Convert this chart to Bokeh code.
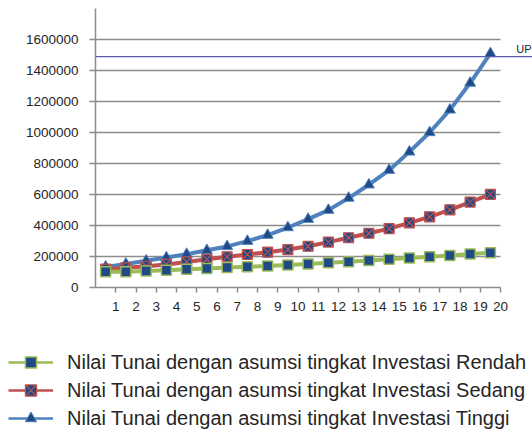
from bokeh.plotting import figure
from bokeh.layouts import column
from bokeh.models import (Range1d, FixedTicker, Span, Label, Legend, LegendItem,
                          ColumnDataSource)
from bokeh.embed import file_html
from bokeh.resources import INLINE

# ---- data ----
years = list(range(1, 21))
x_labels = [str(v) for v in years]
rendah = [101000, 102000, 106000, 111000, 117000, 123000, 129000, 134000, 139000, 145000,
          151000, 159000, 166000, 174000, 183000, 190000, 198000, 206000, 216000, 225000]
sedang = [118000, 127000, 137000, 149000, 165000, 182000, 198000, 213000, 228000, 245000,
          266000, 293000, 321000, 350000, 380000, 417000, 456000, 501000, 551000, 601000]
tinggi = [133000, 152000, 172000, 193000, 215000, 240000, 265000, 299000, 338000, 387000,
          441000, 499000, 577000, 663000, 757000, 875000, 1000000, 1146000, 1319000, 1510000]
up_value = 1490000
up_label = "UP"
y_ticks = [0, 200000, 400000, 600000, 800000, 1000000, 1200000, 1400000, 1600000]
y_tick_labels = [str(v) for v in y_ticks]
series_names = ["Nilai Tunai dengan asumsi tingkat Investasi Rendah",
                "Nilai Tunai dengan asumsi tingkat Investasi Sedang",
                "Nilai Tunai dengan asumsi tingkat Investasi Tinggi"]

# points sit in the middle of each category cell
xs = [v - 0.5 for v in years]

FONT = "Liberation Sans"
TXT = "#262626"
GRID = "#8C8C8C"
NAVY = "#1F4A85"
GREEN = "#9BBB59"
RED = "#C0504D"
BLUE = "#4F81BD"

p = figure(width=532, height=340, output_backend="svg", toolbar_location=None,
           x_range=Range1d(0, 21.58), y_range=Range1d(0, 1800000),
           min_border_left=95, min_border_right=0, min_border_top=8, min_border_bottom=53)
p.frame_align = False
p.outline_line_color = None
p.background_fill_color = "white"
p.xgrid.visible = False
p.ygrid.visible = False

# gridlines limited to the category span
grid_y = [t for t in y_ticks if t > 0]
p.segment(x0=[0] * len(grid_y), x1=[years[-1]] * len(grid_y), y0=grid_y, y1=grid_y,
          line_color=GRID, line_width=1.5, level="underlay")

# axes
p.xaxis.ticker = FixedTicker(ticks=years)
p.xaxis.major_label_overrides = {v: l for v, l in zip(years, x_labels)}
p.xaxis.bounds = (0, years[-1])
p.yaxis.ticker = FixedTicker(ticks=y_ticks)
p.yaxis.major_label_overrides = {v: l for v, l in zip(y_ticks, y_tick_labels)}
for ax in (p.xaxis, p.yaxis):
    ax.axis_line_color = GRID
    ax.axis_line_width = 1.5
    ax.major_tick_line_color = GRID
    ax.major_tick_line_width = 1.5
    ax.minor_tick_line_color = None
    ax.major_tick_in = 0
    ax.major_label_text_font = FONT
    ax.major_label_text_font_size = "13.5px"
    ax.major_label_text_color = TXT
p.xaxis.major_tick_out = 5
p.xaxis.major_label_standoff = 9
p.yaxis.major_tick_out = 6
p.yaxis.major_label_standoff = 11

# UP line
p.add_layout(Span(location=up_value, dimension="width", line_color="#5B5BAA", line_width=1.2))
p.add_layout(Label(x=21.58, y=up_value, text=up_label, text_align="right",
                   text_baseline="bottom", y_offset=2, x_offset=-1,
                   text_font=FONT, text_font_size="11px", text_color=TXT))

# series (draw Tinggi first so lower series sit on top)
src = ColumnDataSource(dict(x=xs, r=rendah, s=sedang, t=tinggi))
line_styles = [dict(line_color=GREEN), dict(line_color=RED), dict(line_color=BLUE)]
marker_styles = [dict(marker="square", size=10, fill_color=NAVY, line_color=GREEN, line_width=1.5),
                 dict(marker="square_x", size=10, fill_color=NAVY, line_color=RED, line_width=1.2),
                 dict(marker="triangle", size=11, fill_color=NAVY, line_color=BLUE, line_width=1)]
cols = ["r", "s", "t"]
for i in (2, 1, 0):
    p.line("x", cols[i], source=src, line_width=4, **line_styles[i])
for i in (2, 1, 0):
    p.scatter("x", cols[i], source=src, **marker_styles[i])

# legend panel below the chart (its renderers reuse the series data, which lies
# outside this panel's ranges, so only the legend samples are visible)
lg = figure(width=532, height=96, output_backend="svg", toolbar_location=None,
            x_range=Range1d(0, 1), y_range=Range1d(0, 1),
            x_axis_location=None, y_axis_location=None,
            min_border_left=0, min_border_right=0, min_border_top=0, min_border_bottom=0)
lg.frame_align = False
lg.outline_line_color = None
lg.xgrid.visible = False
lg.ygrid.visible = False
items = []
for i in range(3):
    rl = lg.line("x", cols[i], source=src, line_width=2.5, **line_styles[i])
    ms = dict(marker_styles[i])
    ms["size"] = 8
    rm = lg.scatter("x", cols[i], source=src, **ms)
    items.append(LegendItem(label=series_names[i], renderers=[rl, rm]))
legend = Legend(items=items, location="top_left", orientation="vertical",
                glyph_width=45, glyph_height=28, label_height=28, spacing=0,
                padding=0, margin=8, label_standoff=14,
                border_line_color=None, background_fill_alpha=0,
                label_text_font=FONT, label_text_font_size="20px",
                label_text_color=TXT)
lg.add_layout(legend)

layout = column(p, lg, spacing=0)
open("out.html", "w").write(file_html(layout, INLINE))
